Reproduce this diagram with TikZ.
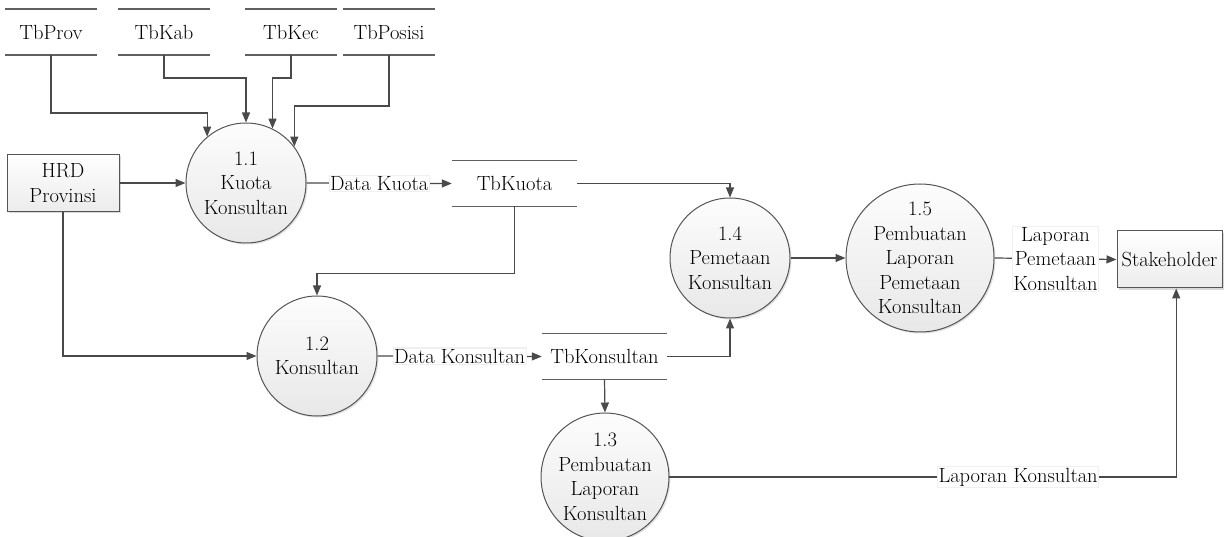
\documentclass[tikz,border=0pt]{standalone}
\usepackage{fontspec}
\usetikzlibrary{arrows.meta,shadows,calc}

\definecolor{linegray}{HTML}{4A4A4A}
\definecolor{edgegray}{HTML}{555555}

\tikzset{
  every node/.style={font=\fontsize{20.5}{24.5}\selectfont, text=black},
  proc/.style={circle, draw=edgegray, line width=1pt, inner sep=0pt,
    top color=gray!2, bottom color=gray!18, align=center,
    drop shadow={opacity=0.25, shadow xshift=1.5pt, shadow yshift=-1.5pt}},
  ent/.style={rectangle, draw=edgegray, line width=1pt, inner sep=0pt,
    top color=white, bottom color=gray!15, align=center,
    drop shadow={opacity=0.3, shadow xshift=2pt, shadow yshift=-2pt}},
  store/.style={rectangle, inner sep=0pt, minimum height=45.5pt},
  storeline/.style={draw=gray!75!black, line width=1.8pt},
  flow/.style={draw=linegray, line width=1.2pt,
    -{Triangle[length=10pt, width=8pt]}},
  lab/.style={fill=white, draw=gray!12, inner sep=1pt, align=center},
}

\begin{document}
\begin{tikzpicture}[x=1pt, y=-1pt]
\useasboundingbox (0,0) rectangle (1227,537);

% external entities
\node[ent, minimum width=112pt, minimum height=57pt] (hrd) at (63,183) {HRD\\Provinsi};
\node[ent, minimum width=105pt, minimum height=57pt] (stake) at (1169.5,259.5) {Stakeholder};

% processes
\node[proc, minimum size=120pt] (p11) at (246,183) {1.1\\Kuota\\Konsultan};
\node[proc, minimum size=120pt] (p12) at (317,356) {1.2\\Konsultan};
\node[proc, minimum size=120pt] (p13) at (605,477) {1.3\\Pembuatan\\Laporan\\Konsultan};
\node[proc, minimum size=120pt] (p14) at (730,258) {1.4\\Pemetaan\\Konsultan};
\node[proc, minimum size=148pt] (p15) at (920,258) {1.5\\Pembuatan\\Laporan\\Pemetaan\\Konsultan};

% data stores
\node[store, minimum width=92pt] (sprov) at (51,32) {TbProv};
\node[store, minimum width=92pt] (skab) at (164,32) {TbKab};
\node[store, minimum width=92pt] (skec) at (291,32) {TbKec};
\node[store, minimum width=92pt] (spos) at (389,32) {TbPosisi};
\node[store, minimum width=125pt] (skuota) at (514.5,183.5) {TbKuota};
\node[store, minimum width=125pt] (skons) at (604.5,356.5) {TbKonsultan};

\foreach \s in {sprov,skab,skec,spos,skuota,skons}{
  \draw[storeline] (\s.north west) -- (\s.north east)
                   (\s.south west) -- (\s.south east);
}

% flows into 1.1
\draw[flow] (sprov.south) -- ++(0,58) -| (p11.130.5);
\draw[flow] (skab.south) -- ++(0,23) -| (p11.north);
\draw[flow] (skec.south) -- ++(0,23) -| (p11.64);
\draw[flow] (spos.south) -- ++(0,51) -| (p11.37);
\draw[flow] (hrd.east) -- (p11.west);

% HRD to 1.2
\draw[flow] (hrd.south) |- (p12.west);

% 1.1 to TbKuota
\draw[flow] (p11.east) -- node[lab]{Data Kuota} (skuota.west);

% TbKuota to 1.4 and 1.2
\draw[flow] (skuota.east) -| (p14.north);
\draw[flow] (skuota.south) -- ++(0,67) -| (p12.north);

% 1.2 to TbKonsultan
\draw[flow] (p12.east) -- node[lab]{Data Konsultan} (skons.west);

% TbKonsultan to 1.4 and 1.3
\draw[flow] (skons.east) -| (p14.south);
\draw[flow] (skons.south) -- (p13.north);

% 1.4 to 1.5
\draw[flow] (p14.east) -- (p15.west);

% 1.5 to Stakeholder
\draw[flow] (p15.east) -- node[lab]{Laporan\\Pemetaan\\Konsultan} (stake.west);

% 1.3 to Stakeholder
\draw[flow] (p13.east) -| node[lab, pos=0.344]{Laporan Konsultan} (stake.283);
\end{tikzpicture}
\end{document}
